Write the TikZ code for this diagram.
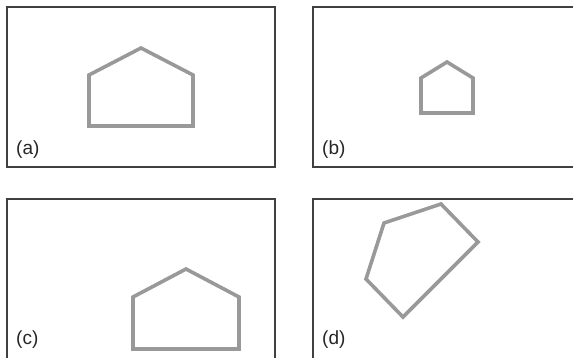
\documentclass[tikz,border=0pt]{standalone}
\usepackage{fontspec}
\setmainfont{Liberation Sans}
\begin{document}
\begin{tikzpicture}[x=1pt,y=-1pt,
  frame/.style={draw=black!75, line width=1.6pt},
  outline/.style={draw=black!40, line width=3.6pt, line join=miter},
  lbl/.style={anchor=west, inner sep=0pt, font=\fontsize{19}{21}\selectfont, text=black!85}]
\useasboundingbox (0,0) rectangle (573,357);
\clip (0,0) rectangle (573,357);
\fill[white] (0,0) rectangle (573,357);
% (a)
\draw[frame] (7,7) rectangle (275,167);
\draw[outline] (89,126) -- (193,126) -- (193,75) -- (141,48) -- (89,75) -- cycle;
\node[lbl] (la) at (16,150) {(a)};
% (b)
\draw[frame] (313,7) rectangle (590,167);
\draw[outline] (421,113) -- (473,113) -- (473,78) -- (447,62) -- (421,78) -- cycle;
\node[lbl] (lb) at (322,150) {(b)};
% (c)
\draw[frame] (7,199) rectangle (275,370);
\draw[outline] (133,349) -- (239,349) -- (239,297) -- (186,269) -- (133,297) -- cycle;
\node[lbl] (lc) at (16,340) {(c)};
% (d)
\draw[frame] (313,199) rectangle (590,370);
\draw[outline] (384,223) -- (441,204) -- (478,242) -- (403,317) -- (366,279) -- cycle;
\node[lbl] (ld) at (322,340) {(d)};
\end{tikzpicture}
\end{document}
